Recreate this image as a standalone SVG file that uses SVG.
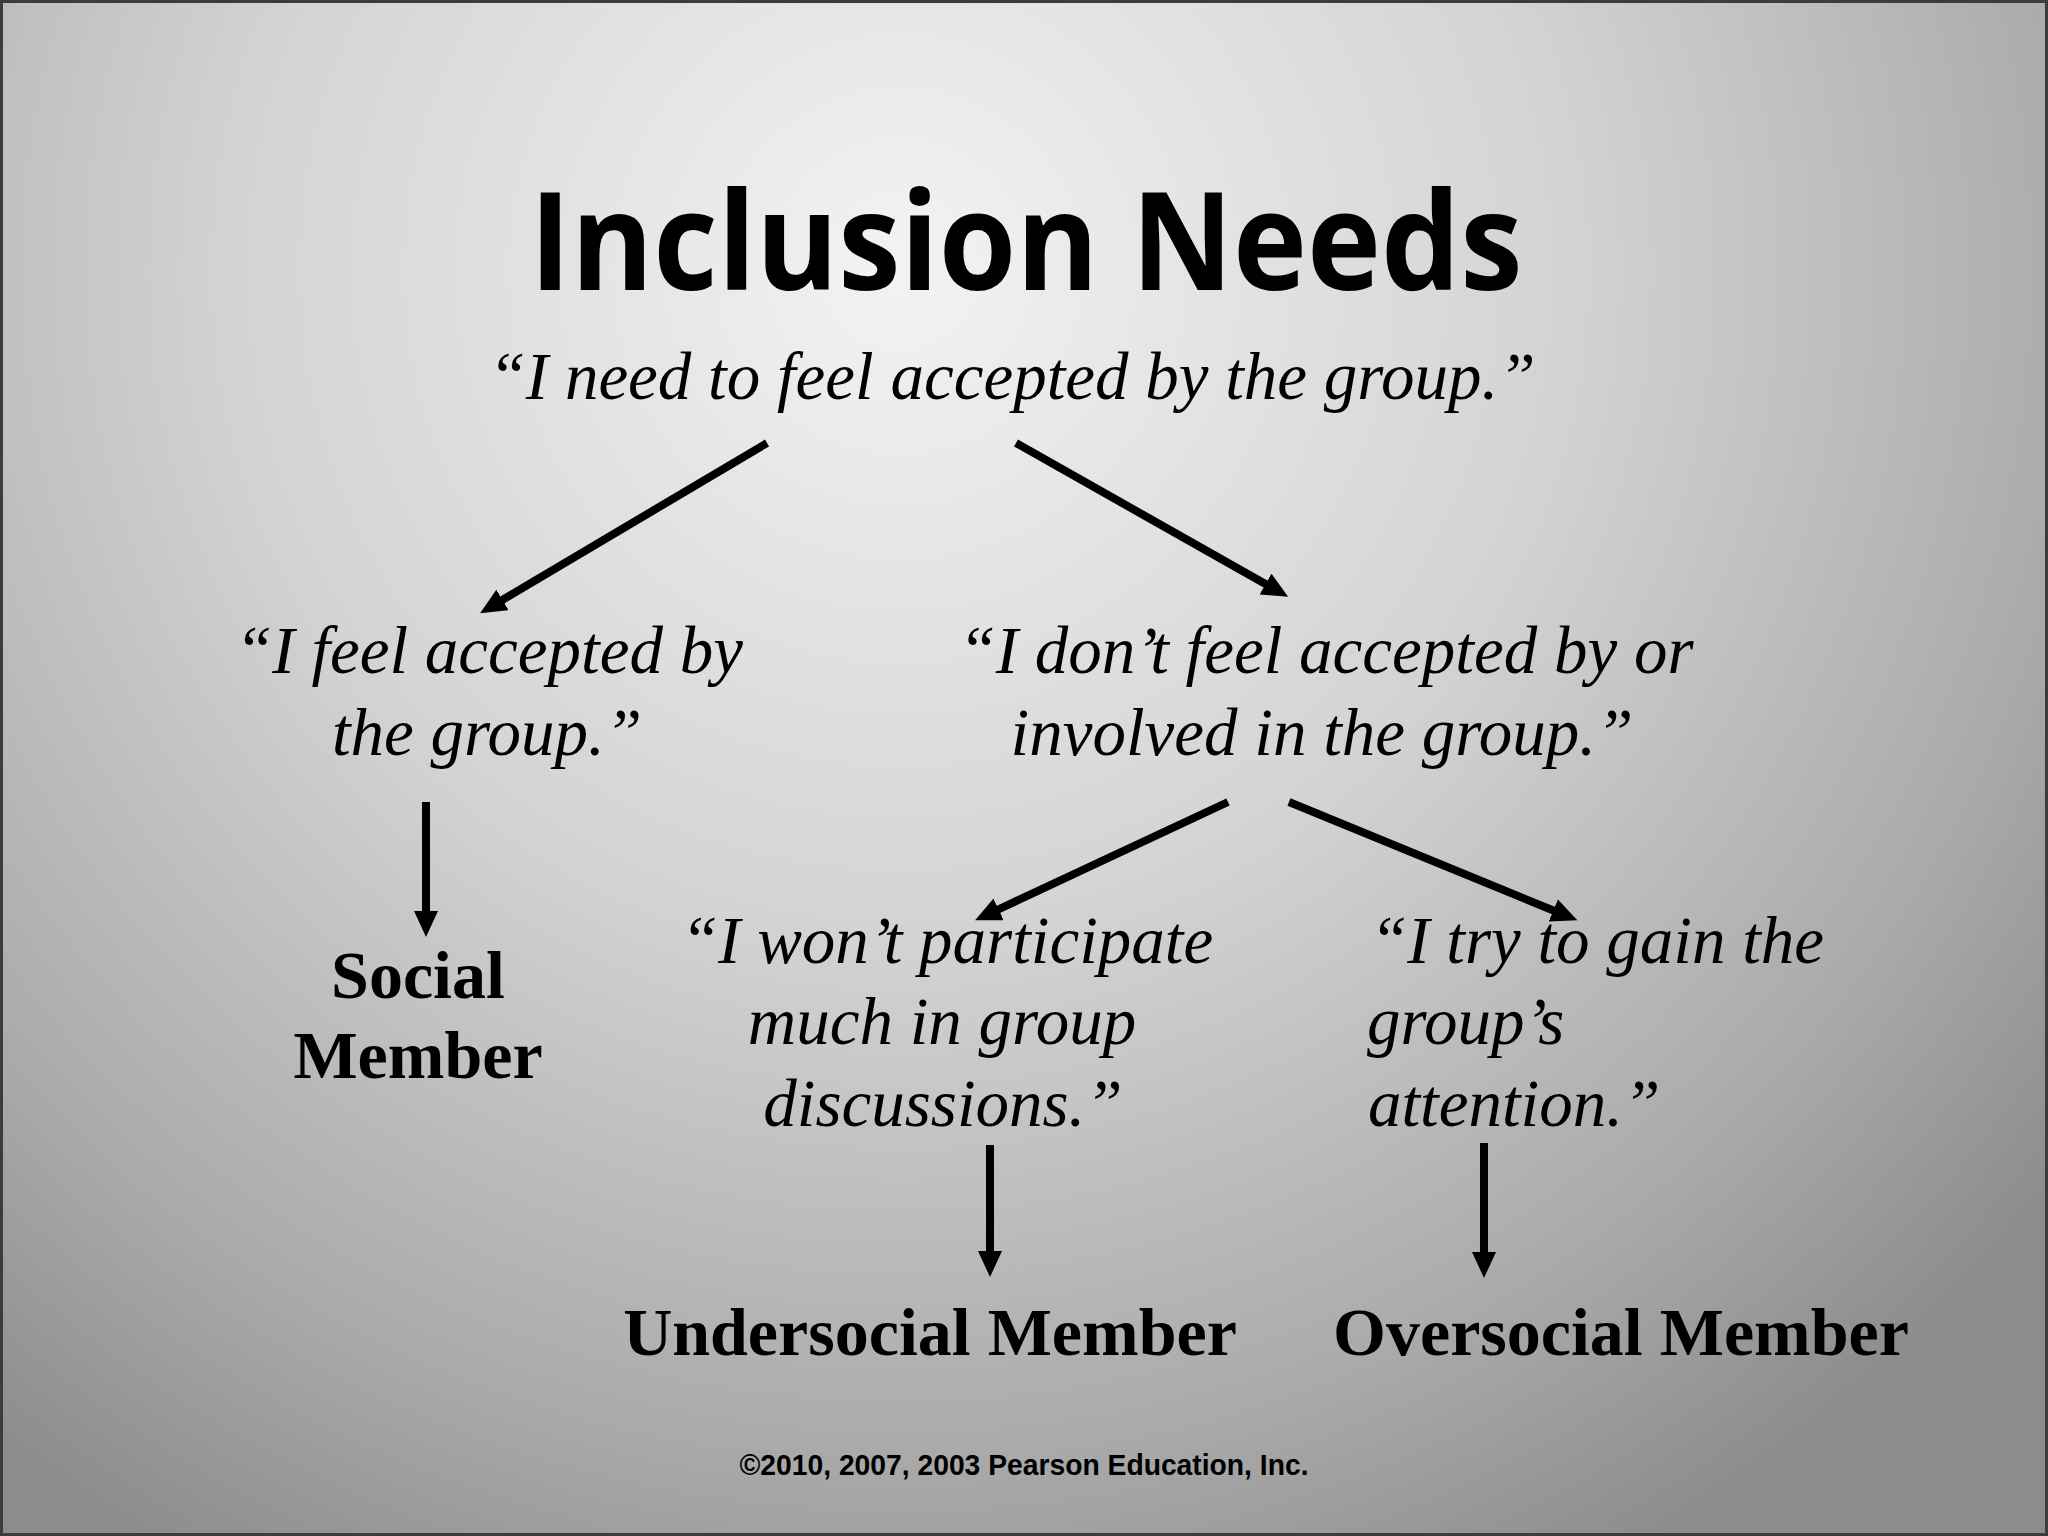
<svg xmlns="http://www.w3.org/2000/svg" width="2048" height="1536" viewBox="0 0 2048 1536">
  <defs>
    <radialGradient id="bg" gradientUnits="userSpaceOnUse" cx="900" cy="270" r="1480">
      <stop offset="0" stop-color="#f3f3f3"/>
      <stop offset="0.45" stop-color="#d3d3d3"/>
      <stop offset="0.8" stop-color="#aaaaaa"/>
      <stop offset="1" stop-color="#8c8c8c"/>
    </radialGradient>
    <marker id="ah" markerUnits="userSpaceOnUse" markerWidth="30" markerHeight="26" refX="4" refY="12" orient="auto">
      <path d="M0,0 L26,12 L0,24 z" fill="#000"/>
    </marker>
    <style>
      .it { font-family: "Liberation Serif", "Times New Roman", serif; font-style: italic; font-size: 67px; fill: #000; }
      .bd { font-family: "Liberation Serif", "Times New Roman", serif; font-weight: bold; font-size: 68px; fill: #000; }
      .ttl { font-family: "Open Sans", "Noto Sans", sans-serif; font-weight: bold; font-size: 136px; fill: #000; }
      .ft { font-family: "Liberation Sans", Arial, sans-serif; font-weight: bold; font-size: 30px; fill: #000; }
      .arr { stroke: #000; stroke-width: 8; fill: none; marker-end: url(#ah); }
    </style>
  </defs>
  <rect x="0" y="0" width="2048" height="1536" fill="url(#bg)"/>
  <rect x="1.5" y="1.5" width="2045" height="1533" fill="none" stroke="#3c3c3c" stroke-width="3"/>

  <g id="title">
    <text class="ttl" x="1026" y="290" text-anchor="middle" textLength="993" lengthAdjust="spacingAndGlyphs">Inclusion Needs</text>
  </g>
  <g id="root">
    <text class="it" x="1012" y="399" text-anchor="middle">“I need to feel accepted by the group.”</text>
  </g>
  <g id="accepted">
    <text class="it" x="489" y="673" text-anchor="middle">“I feel accepted by</text>
    <text class="it" x="487" y="755" text-anchor="middle">the group.”</text>
  </g>
  <g id="not-accepted">
    <text class="it" x="1326" y="673" text-anchor="middle">“I don’t feel accepted by or</text>
    <text class="it" x="1322" y="755" text-anchor="middle">involved in the group.”</text>
  </g>
  <g id="social">
    <text class="bd" x="418" y="998" text-anchor="middle">Social</text>
    <text class="bd" x="418" y="1078" text-anchor="middle">Member</text>
  </g>
  <g id="wont-participate">
    <text class="it" x="947" y="963" text-anchor="middle">“I won’t participate</text>
    <text class="it" x="942" y="1044" text-anchor="middle">much in group</text>
    <text class="it" x="943" y="1126" text-anchor="middle">discussions.”</text>
  </g>
  <g id="gain-attention">
    <text class="it" x="1370" y="963">“I try to gain the</text>
    <text class="it" x="1367" y="1044">group’s</text>
    <text class="it" x="1368" y="1126">attention.”</text>
  </g>
  <g id="undersocial">
    <text class="bd" x="930" y="1355" text-anchor="middle">Undersocial Member</text>
  </g>
  <g id="oversocial">
    <text class="bd" x="1621" y="1355" text-anchor="middle">Oversocial Member</text>
  </g>
  <g id="footer">
    <text class="ft" x="1024" y="1475" text-anchor="middle" textLength="569" lengthAdjust="spacingAndGlyphs">©2010, 2007, 2003 Pearson Education, Inc.</text>
  </g>

  <g id="connectors">
    <line class="arr" x1="767" y1="443" x2="499" y2="602"/>
    <line class="arr" x1="1016" y1="443" x2="1269" y2="586"/>
    <line class="arr" x1="1228" y1="802" x2="995" y2="911"/>
    <line class="arr" x1="1289" y1="802" x2="1557" y2="912"/>
    <line class="arr" x1="426" y1="802" x2="426" y2="915"/>
    <line class="arr" x1="990" y1="1145" x2="990" y2="1255"/>
    <line class="arr" x1="1484" y1="1143" x2="1484" y2="1256"/>
  </g>
</svg>
